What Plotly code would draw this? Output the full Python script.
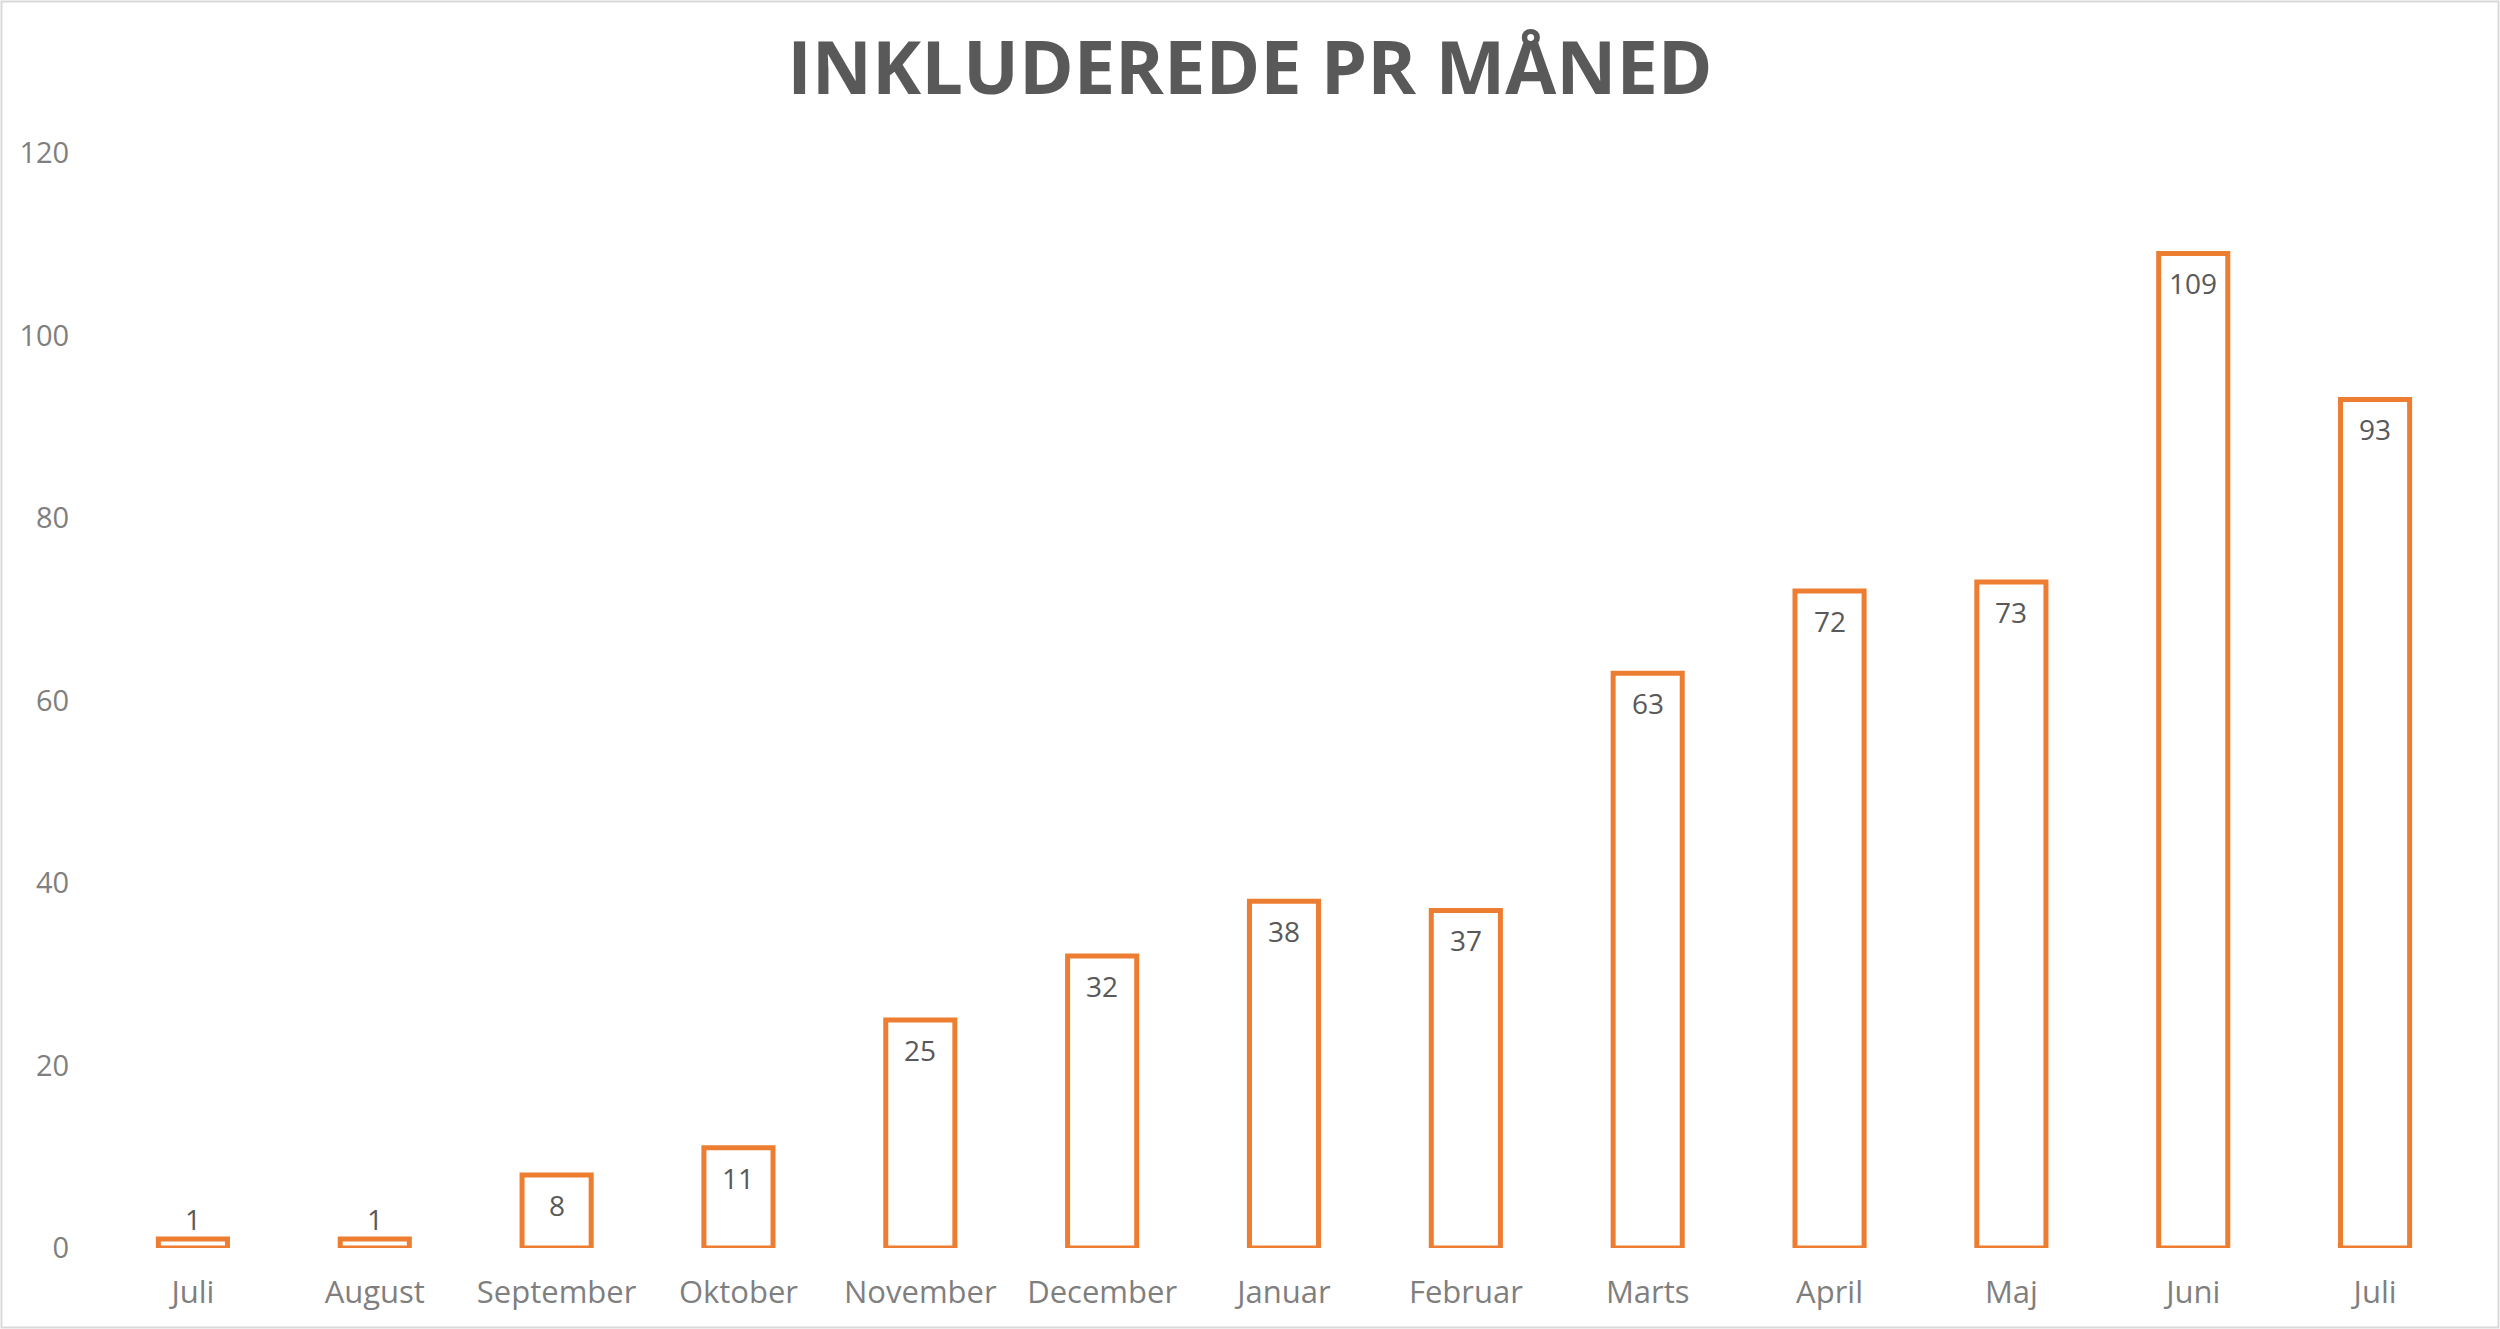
import plotly.graph_objects as go

# ---- data ----
months = ["Juli", "August", "September", "Oktober", "November", "December",
          "Januar", "Februar", "Marts", "April", "Maj", "Juni", "Juli"]
values = [1, 1, 8, 11, 25, 32, 38, 37, 63, 72, 73, 109, 93]
y_ticks = [0, 20, 40, 60, 80, 100, 120]
title_text = "INKLUDEREDE PR MÅNED"

# ---- style ----
W, H = 2500, 1329
ML, MR, MT, MB = 102, 34, 153, 81
ORANGE = "#ED7D31"
DARK = "#595959"
GREY = "#7F7F7F"
FONT = "Open Sans"

x_idx = list(range(len(months)))

fig = go.Figure()
fig.add_trace(go.Bar(
    x=x_idx, y=values, width=0.38,
    marker=dict(color="white", line=dict(color=ORANGE, width=5)),
    hoverinfo="skip",
))

annotations = []
for i, v in zip(x_idx, values):
    inside = v >= 5
    annotations.append(dict(
        x=i, y=v, xref="x", yref="y", text=str(v), showarrow=False,
        yanchor="middle", yshift=(-30 if inside else 20),
        font=dict(family=FONT, size=28, color=DARK),
    ))

pw = W - ML - MR
ph = H - MT - MB
border = dict(
    type="rect", xref="paper", yref="paper",
    x0=-(ML - 1.5) / pw, x1=1 + (MR - 1.5) / pw,
    y0=-(MB - 1.5) / ph, y1=1 + (MT - 1.5) / ph,
    line=dict(color="#D9D9D9", width=2), fillcolor="rgba(0,0,0,0)",
    layer="below",
)

fig.update_layout(
    width=W, height=H,
    margin=dict(l=ML, r=MR, t=MT, b=MB, autoexpand=False),
    paper_bgcolor="white", plot_bgcolor="white",
    showlegend=False,
    title=dict(text=title_text, x=0.5, xref="container", xanchor="center",
               y=1 - 68 / H, yref="container", yanchor="middle",
               font=dict(family=FONT, size=74, color=DARK, weight="bold")),
    annotations=annotations,
    shapes=[border],
    xaxis=dict(
        tickmode="array", tickvals=x_idx, ticktext=months,
        range=[-0.5, len(months) - 0.5],
        showgrid=False, zeroline=False, showline=False,
        ticks="outside", ticklen=17, tickcolor="rgba(0,0,0,0)",
        tickfont=dict(family=FONT, size=31, color=GREY),
    ),
    yaxis=dict(
        range=[0, 120], tickmode="array", tickvals=y_ticks,
        showgrid=False, zeroline=False, showline=False,
        ticks="outside", ticklen=26, tickcolor="rgba(0,0,0,0)",
        tickfont=dict(family=FONT, size=29, color=GREY),
    ),
)

fig.write_html("out.html", config={"displayModeBar": False},
               post_script="document.body.style.margin='0';")
